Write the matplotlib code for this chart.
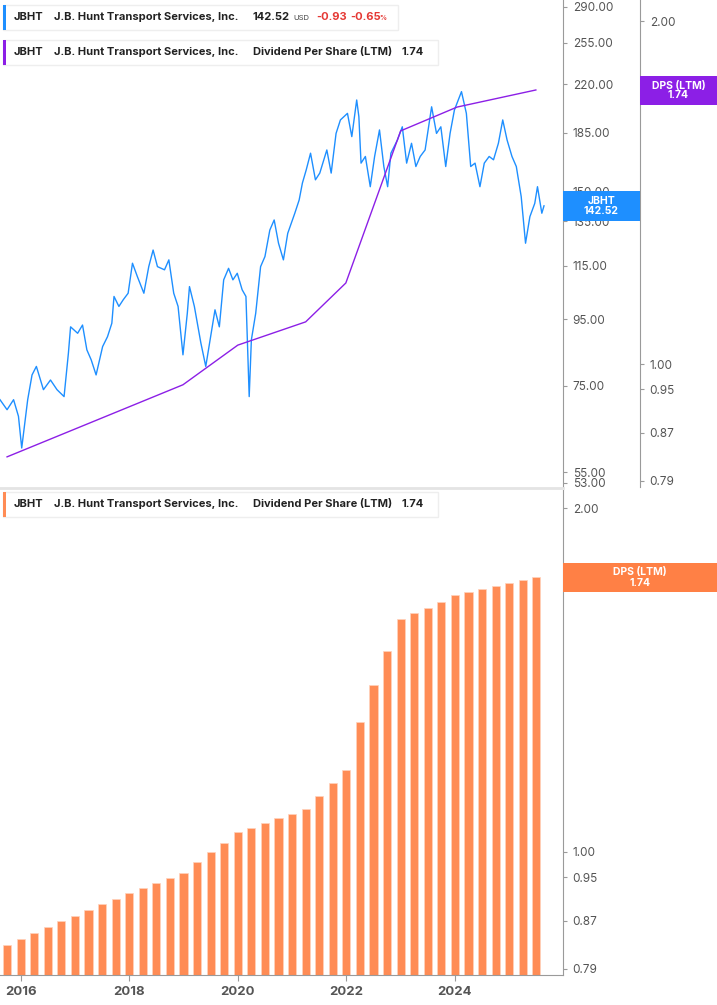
import matplotlib
matplotlib.use("Agg")
import matplotlib.pyplot as plt
from matplotlib.patches import Rectangle
from matplotlib.ticker import FixedLocator, FixedFormatter, NullLocator

plt.rcParams["font.family"] = "Inter"

# price series (decimal year, USD)
price_dates = [2015.62, 2015.75, 2015.87, 2015.96, 2016.02, 2016.13, 2016.21, 2016.29, 2016.42, 2016.55,
               2016.67, 2016.80, 2016.88, 2016.92, 2017.05, 2017.14, 2017.22, 2017.30, 2017.39, 2017.51,
               2017.60, 2017.68, 2017.72, 2017.81, 2017.89, 2017.98, 2018.06, 2018.15, 2018.27, 2018.36,
               2018.44, 2018.52, 2018.65, 2018.73, 2018.82, 2018.90, 2018.99, 2019.07, 2019.11, 2019.20,
               2019.32, 2019.41, 2019.45, 2019.58, 2019.66, 2019.74, 2019.83, 2019.91, 2019.99, 2020.08,
               2020.15, 2020.21, 2020.25, 2020.33, 2020.42, 2020.50, 2020.59, 2020.67, 2020.75, 2020.84,
               2020.92, 2021.05, 2021.13, 2021.19, 2021.26, 2021.34, 2021.43, 2021.51, 2021.64, 2021.72,
               2021.81, 2021.89, 2022.02, 2022.10, 2022.19, 2022.23, 2022.27, 2022.35, 2022.44, 2022.52,
               2022.61, 2022.69, 2022.76, 2022.82, 2022.94, 2023.03, 2023.11, 2023.20, 2023.28, 2023.36,
               2023.45, 2023.57, 2023.66, 2023.74, 2023.83, 2023.91, 2023.99, 2024.12, 2024.21, 2024.29,
               2024.37, 2024.46, 2024.54, 2024.63, 2024.71, 2024.80, 2024.88, 2024.96, 2025.05, 2025.13,
               2025.22, 2025.30, 2025.38, 2025.47, 2025.52, 2025.60, 2025.64]
prices = [71.3, 68.8, 71.3, 67.2, 60.0, 71.3, 77.9, 80.3, 73.9, 76.5,
          73.9, 72.1, 84.2, 92.5, 90.4, 93.1, 85.2, 82.2, 77.9, 86.2,
          89.3, 93.7, 103.1, 99.5, 101.9, 104.3, 116.1, 110.7, 104.3, 114.7,
          121.7, 114.7, 113.4, 117.5, 104.3, 99.5, 83.7, 97.1, 106.8, 99.5,
          87.3, 80.3, 84.2, 98.3, 92.5, 109.4, 114.0, 109.4, 112.0, 105.6,
          103.1, 72.1, 88.3, 97.1, 114.7, 118.9, 130.7, 135.5, 124.7, 117.5,
          129.2, 138.8, 145.5, 154.6, 162.0, 172.0, 156.4, 160.2, 174.0, 160.2,
          184.6, 193.7, 198.3, 182.5, 208.0, 196.0, 166.0, 170.0, 152.6, 170.0,
          186.9, 164.0, 152.6, 172.0, 180.3, 189.0, 166.0, 178.2, 164.0, 170.0,
          174.0, 203.0, 184.6, 189.0, 164.0, 184.6, 200.7, 214.3, 198.3, 164.0,
          166.0, 152.6, 166.0, 170.0, 168.0, 178.2, 193.7, 180.3, 170.0, 164.0,
          147.3, 124.7, 137.1, 143.8, 152.6, 138.8, 142.52]

# DPS line vertices on the top panel
dps_line_dates = [2015.75, 2018.99, 2020.00, 2021.25, 2021.99, 2023.00, 2024.04, 2025.49]
dps_line_values = [0.829, 0.959, 1.039, 1.089, 1.178, 1.602, 1.681, 1.740]

# quarterly DPS (LTM) bars
bar_dates = [2015.75 + 0.25 * i for i in range(40)]
bar_values = [0.829, 0.839, 0.849, 0.860, 0.870, 0.879, 0.890, 0.900, 0.910, 0.920,
              0.929, 0.940, 0.949, 0.959, 0.980, 1.000, 1.019, 1.040, 1.050, 1.060,
              1.070, 1.080, 1.090, 1.120, 1.150, 1.179, 1.299, 1.400, 1.501, 1.600,
              1.620, 1.635, 1.655, 1.680, 1.690, 1.700, 1.710, 1.720, 1.730, 1.740]

price_ticks = [53, 55, 75, 95, 115, 135, 150, 185, 220, 255, 290]
dps_ticks = [0.79, 0.87, 0.95, 1.00, 2.00]
year_ticks = [2016, 2018, 2020, 2022, 2024]

BLUE = "#1e8fff"
PURPLE = "#8c1fe6"
ORANGE = "#ff8c55"
GRID = "#9a9a9a"
TXT = "#555555"

W, H = 717, 1005
fig = plt.figure(figsize=(W / 100, H / 100), dpi=100)


def px_axes(x0, y0, x1, y1):
    return fig.add_axes([x0 / W, 1 - y1 / H, (x1 - x0) / W, (y1 - y0) / H])


def style_right(ax, ticks, pos=None):
    ax.set_yscale("log")
    for s in ["top", "left", "bottom"]:
        ax.spines[s].set_visible(False)
    ax.spines["right"].set_visible(True)
    ax.spines["right"].set_color(GRID)
    if pos is not None:
        ax.spines["right"].set_position(("axes", pos))
    ax.yaxis.set_ticks_position("right")
    ax.yaxis.set_label_position("right")
    ax.yaxis.set_major_locator(FixedLocator(ticks))
    ax.yaxis.set_major_formatter(FixedFormatter([f"{t:.2f}" for t in ticks]))
    ax.yaxis.set_minor_locator(NullLocator())
    ax.tick_params(axis="y", which="both", left=False, labelleft=False, right=True, labelright=True,
                   length=3, width=0.8, color=GRID, labelcolor=TXT, labelsize=8.5, pad=4)


xlim = (2015.62, 2025.99)

# top panel
ax1 = px_axes(0, 0, 563, 487)
ax1.plot(price_dates, prices, color=BLUE, lw=1.0)
ax1.set_xlim(*xlim)
ax1.set_ylim(52.2, 297.3)
ax1.set_xticks([])

ax2 = ax1.twinx()
ax2.plot(dps_line_dates, dps_line_values, color=PURPLE, lw=1.0)
style_right(ax1, price_ticks)
ax1.set_ylim(52.2, 297.3)
style_right(ax2, dps_ticks, pos=640 / 563)
ax2.set_ylim(0.780, 2.087)

# bottom panel
ax3 = px_axes(0, 490, 563, 975)
ax3.bar(bar_dates, bar_values, width=0.15, color=ORANGE, edgecolor="#ffd2bd", linewidth=0.5)
ax3.set_xlim(*xlim)
style_right(ax3, dps_ticks)
ax3.set_ylim(0.780, 2.075)
ax3.spines["bottom"].set_visible(True)
ax3.spines["bottom"].set_color(GRID)
ax3.set_xticks(year_ticks)
ax3.set_xticklabels([str(y) for y in year_ticks])
ax3.tick_params(axis="x", length=4, color=GRID, labelcolor=TXT, labelsize=9.5, pad=4)
for lab in ax3.get_xticklabels():
    lab.set_fontweight("bold")

# panel separator
fig.add_artist(plt.Line2D([0, 563 / W], [1 - 488 / H, 1 - 488 / H], color="#e4e4e4", lw=2))


def px_text(x, y, s, **kw):
    fig.text(x / W, 1 - y / H, s, va="center", **kw)


def legend_box(y0, y1, x1, color):
    fig.add_artist(Rectangle((3 / W, 1 - y1 / H), (x1 - 3) / W, (y1 - y0) / H,
                             facecolor="white", edgecolor="#eeeeee", lw=1))
    fig.add_artist(Rectangle((3 / W, 1 - y1 / H), 3 / W, (y1 - y0) / H, facecolor=color, lw=0))


kw = dict(fontsize=8.0, fontweight="bold", color="#222222")
legend_box(5, 30, 398, BLUE)
px_text(14, 17, "JBHT", **kw)
px_text(54, 17, "J.B. Hunt Transport Services, Inc.", **kw)
px_text(253, 17, "142.52", **kw)
px_text(293, 18, "USD", fontsize=5.5, color="#444444")
px_text(316, 17, "-0.93", fontsize=8.0, fontweight="bold", color="#e53935")
px_text(350, 17, "-0.65", fontsize=8.0, fontweight="bold", color="#e53935")
px_text(379, 18.5, "%", fontsize=5.0, fontweight="bold", color="#e53935")

legend_box(40, 65, 438, PURPLE)
px_text(14, 52, "JBHT", **kw)
px_text(54, 52, "J.B. Hunt Transport Services, Inc.", **kw)
px_text(253, 52, "Dividend Per Share (LTM)", **kw)
px_text(402, 52, "1.74", **kw)

legend_box(492, 517, 438, ORANGE)
px_text(14, 504, "JBHT", **kw)
px_text(54, 504, "J.B. Hunt Transport Services, Inc.", **kw)
px_text(253, 504, "Dividend Per Share (LTM)", **kw)
px_text(402, 504, "1.74", **kw)


def tag(x0, y0, x1, y1, color, s):
    fig.add_artist(Rectangle((x0 / W, 1 - y1 / H), (x1 - x0) / W, (y1 - y0) / H, facecolor=color, lw=0))
    fig.text((x0 + x1) / 2 / W, 1 - (y0 + y1) / 2 / H, s, ha="center", va="center",
             fontsize=7.5, fontweight="bold", color="white", linespacing=1.0)


tag(563, 191, 640, 221, BLUE, "JBHT\n142.52")
tag(640, 76, 717, 105, PURPLE, "DPS (LTM)\n1.74")
tag(563, 563, 717, 592, "#ff8045", "DPS (LTM)\n1.74")

fig.savefig("out.png", dpi=100)
